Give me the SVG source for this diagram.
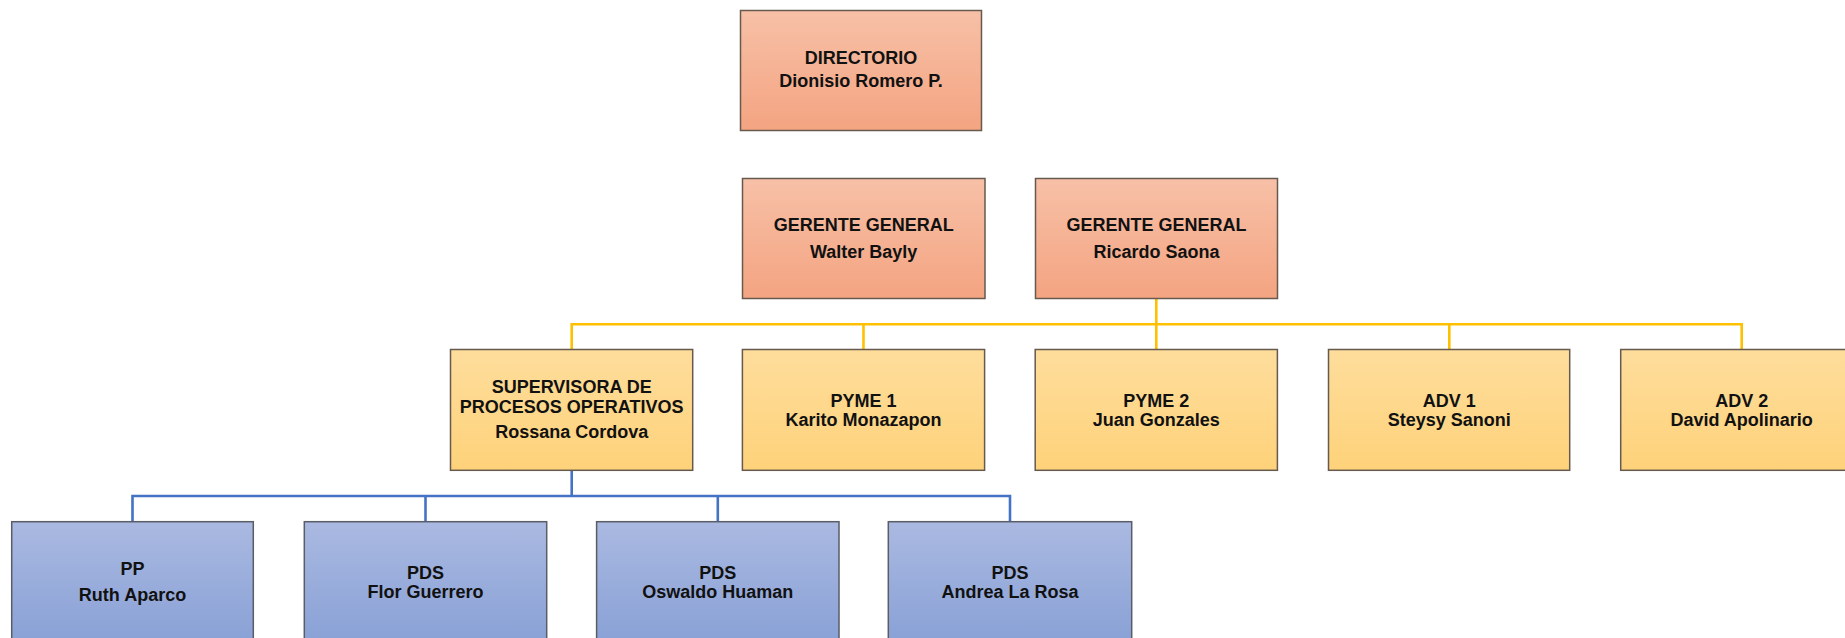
<svg xmlns="http://www.w3.org/2000/svg" width="1845" height="638" viewBox="0 0 1845 638">
  <defs>
    <linearGradient id="gradOrange" x1="0" y1="0" x2="0" y2="1">
      <stop offset="0" stop-color="#F7C0A7"/>
      <stop offset="1" stop-color="#F4A481"/>
    </linearGradient>
    <linearGradient id="gradYellow" x1="0" y1="0" x2="0" y2="1">
      <stop offset="0" stop-color="#FEDD9C"/>
      <stop offset="1" stop-color="#FED27A"/>
    </linearGradient>
    <linearGradient id="gradBlue" x1="0" y1="0" x2="0" y2="1">
      <stop offset="0" stop-color="#AAB9E1"/>
      <stop offset="1" stop-color="#89A1D6"/>
    </linearGradient>
  </defs>
  <style>
    .box { stroke: #665a4e; stroke-width: 1.5; }
    .orange { fill: url(#gradOrange); }
    .yellow { fill: url(#gradYellow); }
    .blue { fill: url(#gradBlue); stroke: #5a5c66; }
    .label { font-family: "Liberation Sans", Arial, sans-serif; font-weight: bold; font-size: 18px; fill: #111; text-anchor: middle; }
    .link-yellow { fill: none; stroke: #FFC000; stroke-width: 2.6; }
    .link-blue { fill: none; stroke: #4472C4; stroke-width: 2.6; }
  </style>

  <rect width="1845" height="638" fill="#ffffff"/>

  <!-- Connectors -->
  <g id="connectors">
    <!-- Gerente General (Ricardo Saona) to second level -->
    <path class="link-yellow" d="M1156.3 298.5 V324.3"/>
    <path class="link-yellow" d="M571.7 349.5 V324.3 H1741.7 V349.5"/>
    <path class="link-yellow" d="M863.5 324.3 V349.5"/>
    <path class="link-yellow" d="M1156.3 324.3 V349.5"/>
    <path class="link-yellow" d="M1449.3 324.3 V349.5"/>
    <!-- Supervisora to operative staff -->
    <path class="link-blue" d="M571.7 470.3 V496"/>
    <path class="link-blue" d="M132.5 521.7 V496 H1010 V521.7"/>
    <path class="link-blue" d="M425.5 496 V521.7"/>
    <path class="link-blue" d="M717.8 496 V521.7"/>
  </g>

  <!-- Top level -->
  <g id="node-directorio">
    <rect class="box orange" x="740.5" y="10.5" width="241" height="120"/>
    <text class="label" x="861" y="64.3">DIRECTORIO</text>
    <text class="label" x="861" y="87.3">Dionisio Romero P.</text>
  </g>

  <g id="node-gerente-walter">
    <rect class="box orange" x="742.5" y="178.5" width="242.5" height="120"/>
    <text class="label" x="863.7" y="231">GERENTE GENERAL</text>
    <text class="label" x="863.7" y="257.7">Walter Bayly</text>
  </g>

  <g id="node-gerente-ricardo">
    <rect class="box orange" x="1035.5" y="178.5" width="242" height="120"/>
    <text class="label" x="1156.5" y="231">GERENTE GENERAL</text>
    <text class="label" x="1156.5" y="257.7">Ricardo Saona</text>
  </g>

  <!-- Second level -->
  <g id="node-supervisora">
    <rect class="box yellow" x="450.5" y="349.5" width="242.2" height="120.8"/>
    <text class="label" x="571.7" y="393.3">SUPERVISORA DE</text>
    <text class="label" x="571.7" y="412.7">PROCESOS OPERATIVOS</text>
    <text class="label" x="571.7" y="438.3">Rossana Cordova</text>
  </g>

  <g id="node-pyme1">
    <rect class="box yellow" x="742.4" y="349.5" width="242.2" height="120.8"/>
    <text class="label" x="863.5" y="406.7">PYME 1</text>
    <text class="label" x="863.5" y="425.7">Karito Monazapon</text>
  </g>

  <g id="node-pyme2">
    <rect class="box yellow" x="1035.2" y="349.5" width="242.2" height="120.8"/>
    <text class="label" x="1156.3" y="406.7">PYME 2</text>
    <text class="label" x="1156.3" y="425.7">Juan Gonzales</text>
  </g>

  <g id="node-adv1">
    <rect class="box yellow" x="1328.5" y="349.5" width="241.2" height="120.8"/>
    <text class="label" x="1449.3" y="406.7">ADV 1</text>
    <text class="label" x="1449.3" y="425.7">Steysy Sanoni</text>
  </g>

  <g id="node-adv2">
    <rect class="box yellow" x="1620.7" y="349.5" width="242" height="120.8"/>
    <text class="label" x="1741.7" y="406.7">ADV 2</text>
    <text class="label" x="1741.7" y="426">David Apolinario</text>
  </g>

  <!-- Third level -->
  <g id="node-pp-ruth">
    <rect class="box blue" x="11.7" y="521.7" width="241.6" height="121"/>
    <text class="label" x="132.5" y="575">PP</text>
    <text class="label" x="132.5" y="600.7">Ruth Aparco</text>
  </g>

  <g id="node-pds-flor">
    <rect class="box blue" x="304.3" y="521.7" width="242.4" height="121"/>
    <text class="label" x="425.5" y="578.5">PDS</text>
    <text class="label" x="425.5" y="597.8">Flor Guerrero</text>
  </g>

  <g id="node-pds-oswaldo">
    <rect class="box blue" x="596.6" y="521.7" width="242.4" height="121"/>
    <text class="label" x="717.8" y="578.5">PDS</text>
    <text class="label" x="717.8" y="597.8">Oswaldo Huaman</text>
  </g>

  <g id="node-pds-andrea">
    <rect class="box blue" x="888.3" y="521.7" width="243.4" height="121"/>
    <text class="label" x="1010" y="578.5">PDS</text>
    <text class="label" x="1010" y="597.8">Andrea La Rosa</text>
  </g>
</svg>
